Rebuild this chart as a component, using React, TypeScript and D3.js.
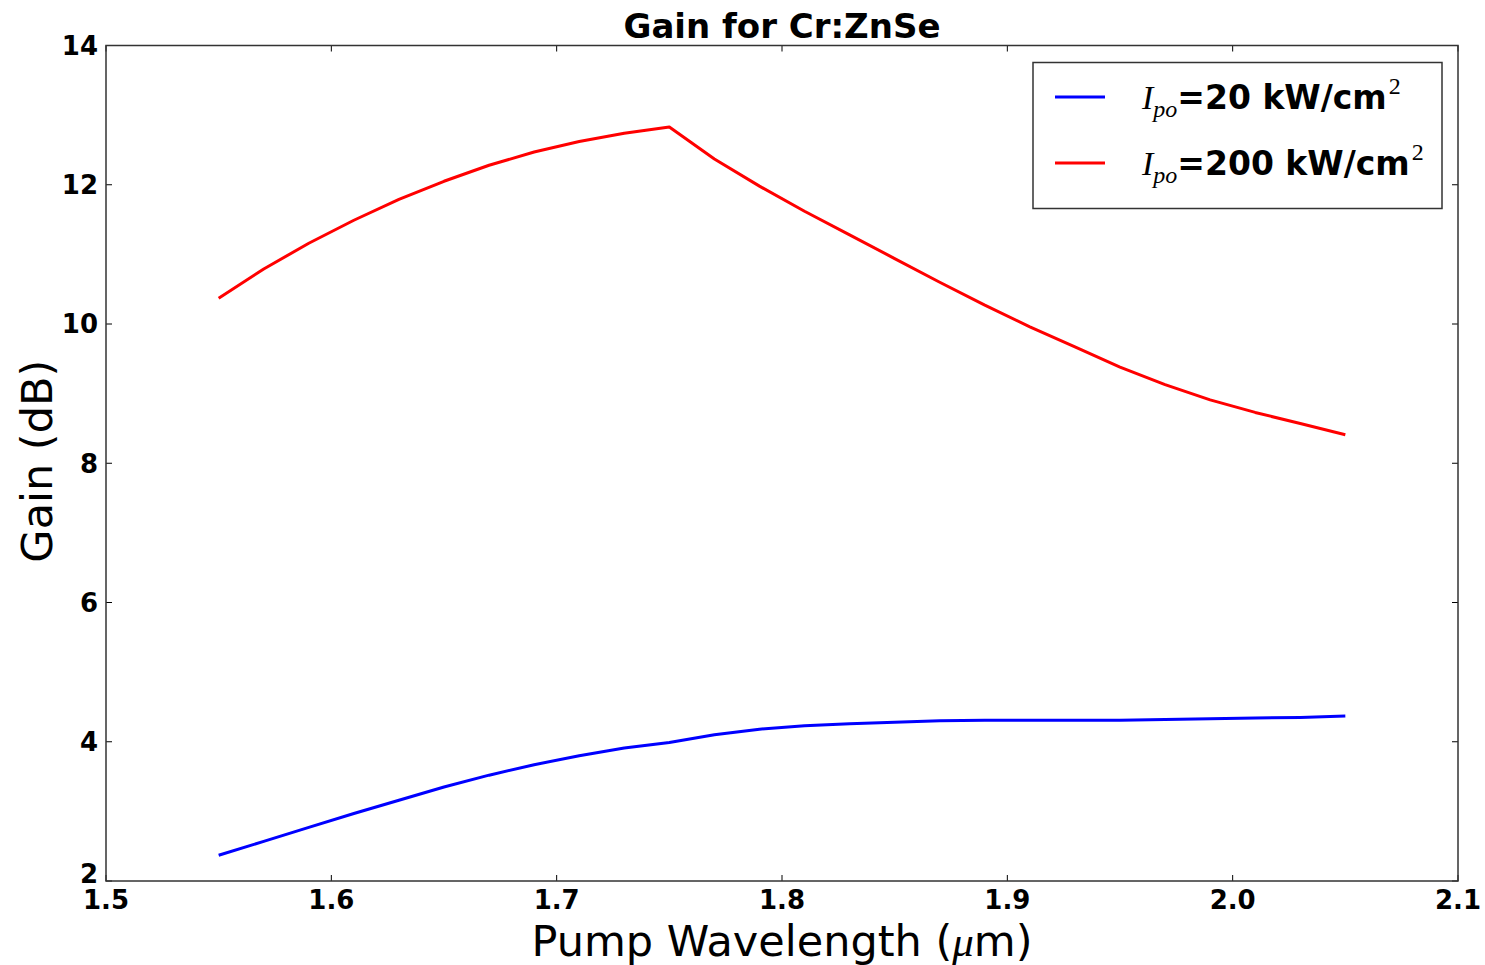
import React from "react";
import * as d3 from "d3";

const wavelengths = [1.55, 1.57, 1.59, 1.61, 1.63, 1.65, 1.67, 1.69, 1.71, 1.73, 1.75, 1.77, 1.79, 1.81, 1.83, 1.85, 1.87, 1.89, 1.91, 1.93, 1.95, 1.97, 1.99, 2.01, 2.03, 2.05];
const gain20 = [2.37, 2.57, 2.77, 2.97, 3.16, 3.35, 3.52, 3.67, 3.80, 3.91, 3.99, 4.10, 4.18, 4.23, 4.26, 4.28, 4.30, 4.31, 4.31, 4.31, 4.31, 4.32, 4.33, 4.34, 4.35, 4.37];
const gain200 = [10.37, 10.79, 11.16, 11.49, 11.79, 12.05, 12.28, 12.47, 12.62, 12.74, 12.83, 12.37, 11.98, 11.62, 11.28, 10.94, 10.60, 10.27, 9.96, 9.67, 9.38, 9.13, 8.91, 8.73, 8.57, 8.41];
const xTicks = [1.5, 1.6, 1.7, 1.8, 1.9, 2.0, 2.1];
const yTicks = [2, 4, 6, 8, 10, 12, 14];
const seriesNames = ["=20 kW/cm", "=200 kW/cm"];
const seriesColors = ["#0000ff", "#ff0000"];

const W = 1485, H = 965;
const L = 106, R = 1458, T = 45.5, B = 881;

export default function App() {
  const x = d3.scaleLinear().domain([1.5, 2.1]).range([L, R]);
  const y = d3.scaleLinear().domain([2, 14]).range([B, T]);
  const line = d3.line<[number, number]>().x(d => x(d[0])).y(d => y(d[1]));
  const series = [gain20, gain200];
  const tickFont = "'DejaVu Sans', sans-serif";
  const mathFont = "'Liberation Serif', 'DejaVu Serif', serif";
  const tl = 6;
  return (
    <svg width={W} height={H} style={{ position: "absolute", left: 0, top: 0, background: "#fff" }}>
      <rect x={0} y={0} width={W} height={H} fill="#fff" />
      {series.map((s, i) => (
        <path key={i} d={line(wavelengths.map((w, j) => [w, s[j]]) as [number, number][]) || ""}
          fill="none" stroke={seriesColors[i]} strokeWidth={3} strokeLinejoin="round" />
      ))}
      {xTicks.map(t => (
        <g key={"x" + t}>
          <line x1={x(t)} x2={x(t)} y1={B} y2={B - tl} stroke="#000" strokeWidth={1} />
          <line x1={x(t)} x2={x(t)} y1={T} y2={T + tl} stroke="#000" strokeWidth={1} />
          <text x={x(t)} y={B + 28} textAnchor="middle" fontFamily={tickFont} fontWeight="bold" fontSize={26}>{t.toFixed(1)}</text>
        </g>
      ))}
      {yTicks.map(t => (
        <g key={"y" + t}>
          <line x1={L} x2={L + tl} y1={y(t)} y2={y(t)} stroke="#000" strokeWidth={1} />
          <line x1={R} x2={R - tl} y1={y(t)} y2={y(t)} stroke="#000" strokeWidth={1} />
          <text x={L - 8} y={y(t) - (t === 2 ? 7 : 0)} dy="0.36em" textAnchor="end" fontFamily={tickFont} fontWeight="bold" fontSize={26}>{t}</text>
        </g>
      ))}
      <rect x={L} y={T} width={R - L} height={B - T} fill="none" stroke="#333" strokeWidth={1.5} />
      <text x={(L + R) / 2} y={T - 8} textAnchor="middle" fontFamily={tickFont} fontWeight="bold" fontSize={34}>Gain for Cr:ZnSe</text>
      <text x={(L + R) / 2} y={956} textAnchor="middle" fontFamily={tickFont} fontSize={43}>
        Pump Wavelength (<tspan fontFamily={mathFont} fontStyle="italic">μ</tspan>m)
      </text>
      <text transform={`translate(52,${(T + B) / 2 - 2}) rotate(-90)`} textAnchor="middle" fontFamily={tickFont} fontSize={43}>Gain (dB)</text>
      <rect x={1033} y={62.5} width={409} height={146} fill="#fff" stroke="#333" strokeWidth={1.5} />
      {seriesNames.map((n, i) => {
        const cy = 97 + i * 66;
        return (
          <g key={n}>
            <line x1={1055} x2={1105} y1={cy} y2={cy} stroke={seriesColors[i]} strokeWidth={3} />
            <text x={1142} y={cy + 12}>
              <tspan fontFamily={mathFont} fontStyle="italic" fontSize={34}>I</tspan>
              <tspan fontFamily={mathFont} fontStyle="italic" fontSize={24} dy={8}>po</tspan>
              <tspan fontFamily={tickFont} fontWeight="bold" fontSize={33} dy={-8}>{n}</tspan>
              <tspan fontFamily={mathFont} fontSize={24} dy={-15} dx={2}>2</tspan>
            </text>
          </g>
        );
      })}
    </svg>
  );
}
